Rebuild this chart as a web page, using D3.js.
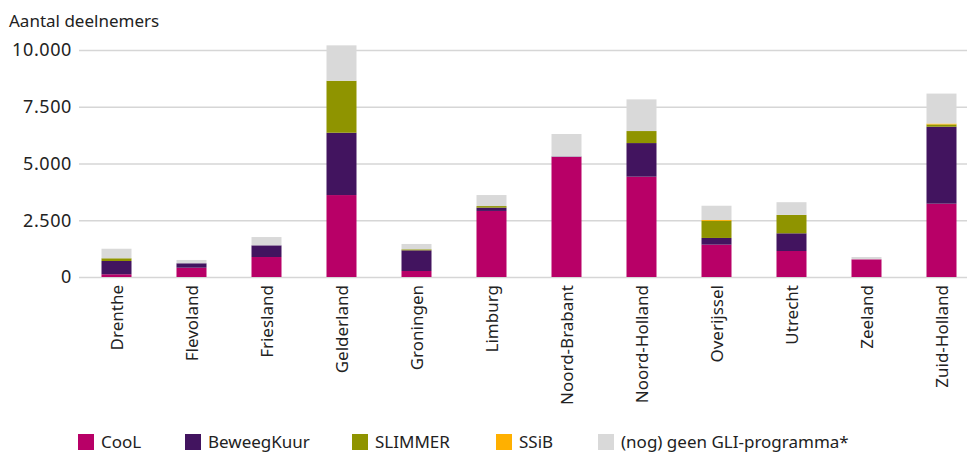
<!DOCTYPE html>
<html>
<head>
<meta charset="utf-8">
<script src="https://cdn.jsdelivr.net/npm/d3@7"></script>
<style>
  body { margin: 0; background: #fff; }
  svg text { font-family: "Noto Sans", "Open Sans", sans-serif; fill: #222; }
</style>
</head>
<body>
<svg id="chart" width="967" height="454"></svg>
<script>
// provinces
var provinces = ["Drenthe","Flevoland","Friesland","Gelderland","Groningen","Limburg",
  "Noord-Brabant","Noord-Holland","Overijssel","Utrecht","Zeeland","Zuid-Holland"];

// series values, per province (same order)
var cool       = [120, 410, 880, 3610, 265, 2910, 5290, 4420, 1425, 1145, 780, 3230];
var beweegkuur = [585, 195, 515, 2745, 910, 145,  20,   1480, 295,  780,  0,   3390];
var slimmer    = [120, 0,   0,   2290, 45,  70,   0,    530,  750,  810,  0,   100];
var ssib       = [0,   0,   0,   0,    0,   0,    0,    0,    40,   0,    0,   40];
var geenGli    = [420, 145, 365, 1560, 235, 485,  990,  1395, 630,  560,  100, 1320];

var yTicks = [0, 2500, 5000, 7500, 10000];

var seriesNames = ["CooL","BeweegKuur","SLIMMER","SSiB","(nog) geen GLI-programma*"];
var seriesValues = [cool, beweegkuur, slimmer, ssib, geenGli];
var colors = ["#b80067","#42145f","#8f9400","#ffb000","#d9d9d9"];

var rows = provinces.map(function(p, i){
  var r = { province: p };
  seriesNames.forEach(function(s, j){ r[s] = seriesValues[j][i]; });
  return r;
});

var svg = d3.select("#chart");

var x = d3.scaleBand()
  .domain(provinces)
  .range([79, 979])
  .paddingInner(0.6)
  .paddingOuter(0.3);

var y = d3.scaleLinear()
  .domain([0, 10000])
  .range([277, 50]);

var fmt = function(d){ return d3.format(",")(d).replace(/,/g, "."); };

// gridlines
svg.append("g")
  .selectAll("line")
  .data(yTicks)
  .enter()
  .append("line")
    .attr("x1", 79)
    .attr("x2", 967)
    .attr("y1", function(d){ return y(d) + 0.5; })
    .attr("y2", function(d){ return y(d) + 0.5; })
    .attr("stroke", "#d6d6d6")
    .attr("stroke-width", 1.3);

// y labels
svg.append("g")
  .selectAll("text")
  .data(yTicks)
  .enter()
  .append("text")
    .attr("x", 72)
    .attr("y", function(d){ return y(d); })
    .attr("dy", "0.36em")
    .attr("text-anchor", "end")
    .attr("font-size", 18)
    .attr("letter-spacing", 0.6)
    .text(fmt);

svg.append("text")
  .attr("x", 9)
  .attr("y", 27)
  .attr("font-size", 17)
  .text("Aantal deelnemers");

// stacked bars
var stack = d3.stack().keys(seriesNames)(rows);

svg.append("g")
  .selectAll("g")
  .data(stack)
  .enter()
  .append("g")
    .attr("fill", function(d, i){ return colors[i]; })
  .selectAll("rect")
  .data(function(d){ return d; })
  .enter()
  .append("rect")
    .attr("x", function(d){ return x(d.data.province); })
    .attr("width", x.bandwidth())
    .attr("y", function(d){ return y(d[1]); })
    .attr("height", function(d){ return Math.max(0, y(d[0]) - y(d[1])); });

// x labels
svg.append("g")
  .selectAll("text")
  .data(provinces)
  .enter()
  .append("text")
    .attr("transform", function(d){
      return "translate(" + (x(d) + x.bandwidth()/2) + ",285) rotate(-90)";
    })
    .attr("dy", "0.36em")
    .attr("text-anchor", "end")
    .attr("font-size", 17)
    .text(function(d){ return d; });

// legend
var legendX = [78, 185, 352, 496, 598];
var legend = svg.append("g")
  .selectAll("g")
  .data(seriesNames)
  .enter()
  .append("g")
    .attr("transform", function(d, i){ return "translate(" + legendX[i] + ",434)"; });

legend.append("rect")
  .attr("width", 16)
  .attr("height", 16)
  .attr("fill", function(d, i){ return colors[i]; });

legend.append("text")
  .attr("x", 23)
  .attr("y", 8)
  .attr("dy", "0.36em")
  .attr("font-size", 17)
  .text(function(d){ return d; });
</script>
</body>
</html>
